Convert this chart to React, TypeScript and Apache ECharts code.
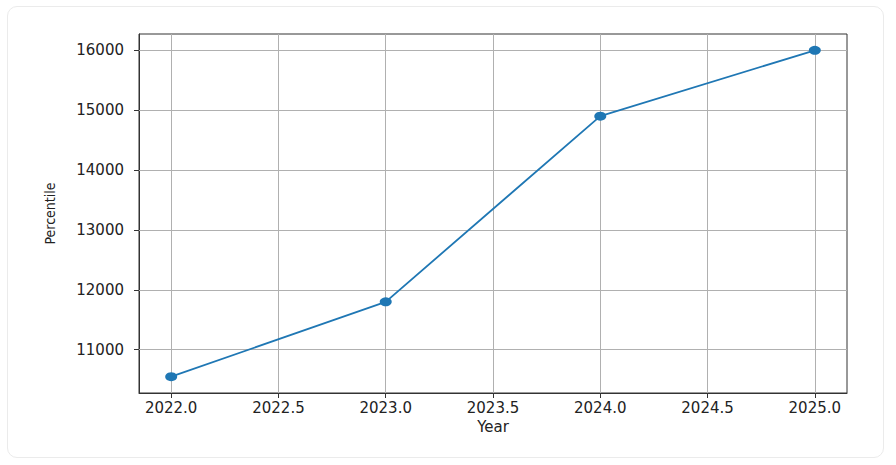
import React, { useEffect, useRef } from 'react';
import * as echarts from 'echarts';

const years = [2022, 2023, 2024, 2025];
const percentiles = [10550, 11800, 14900, 16000];
const xTicks = [2022.0, 2022.5, 2023.0, 2023.5, 2024.0, 2024.5, 2025.0];
const yTicks = [11000, 12000, 13000, 14000, 15000, 16000];

const FONT = '"DejaVu Sans", sans-serif';

const App: React.FC = () => {
    const chartRef = useRef<HTMLDivElement>(null);

    useEffect(() => {
        if (!chartRef.current) return;
        const chart = echarts.init(chartRef.current, undefined, { renderer: 'svg' });

        chart.setOption({
            animation: false,
            grid: {
                left: 139,
                top: 34,
                width: 708,
                height: 359,
                show: true,
                borderColor: '#333',
                borderWidth: 1,
                backgroundColor: 'transparent',
            },
            xAxis: {
                type: 'value',
                min: 2021.85,
                max: 2025.15,
                name: 'Year',
                nameLocation: 'middle',
                nameGap: 21,
                nameTextStyle: { fontFamily: FONT, fontSize: 15, color: '#222' },
                axisLine: { show: true, lineStyle: { color: '#333', width: 1 } },
                axisTick: {
                    show: true,
                    length: 5,
                    customValues: xTicks,
                    lineStyle: { color: '#333' },
                },
                axisLabel: {
                    customValues: xTicks,
                    margin: 7,
                    fontFamily: FONT,
                    fontSize: 15,
                    color: '#222',
                    formatter: (v: number) => v.toFixed(1),
                },
                splitLine: { show: false },
            },
            yAxis: {
                type: 'value',
                min: 10277.5,
                max: 16272.5,
                name: 'Percentile',
                nameLocation: 'middle',
                nameGap: 82,
                nameRotate: 90,
                nameTextStyle: {
                    fontFamily: '"DejaVu Sans Condensed", "DejaVu Sans", sans-serif',
                    fontSize: 14,
                    color: '#222',
                },
                axisLine: { show: true, lineStyle: { color: '#333', width: 1 } },
                axisTick: {
                    show: true,
                    length: 5,
                    customValues: yTicks,
                    lineStyle: { color: '#333' },
                },
                axisLabel: {
                    customValues: yTicks,
                    margin: 15,
                    fontFamily: FONT,
                    fontSize: 15,
                    color: '#222',
                    formatter: (v: number) => String(v),
                },
                splitLine: { show: false },
            },
            series: [
                {
                    type: 'line',
                    data: [],
                    z: 1,
                    silent: true,
                    markLine: {
                        silent: true,
                        z: 1,
                        symbol: 'none',
                        label: { show: false },
                        emphasis: { disabled: true },
                        lineStyle: { color: '#b0b0b0', width: 1, type: 'solid' },
                        data: [
                            ...xTicks.map(v => ({ xAxis: v })),
                            ...yTicks.map(v => ({ yAxis: v })),
                        ],
                    },
                },
                {
                    type: 'line',
                    z: 3,
                    data: years.map((y, i) => [y, percentiles[i]]),
                    symbol: 'circle',
                    symbolSize: [12, 9],
                    itemStyle: { color: '#1f77b4' },
                    lineStyle: { color: '#1f77b4', width: 1.8 },
                },
            ],
        });

        return () => chart.dispose();
    }, []);

    return (
        <div style={{ position: 'fixed', left: 0, top: 0, width: 896, height: 465, background: '#fff' }}>
            <div
                style={{
                    position: 'absolute',
                    left: 7,
                    top: 6,
                    width: 875,
                    height: 450,
                    border: '1px solid #ebebeb',
                    borderRadius: 10,
                }}
            />
            <div ref={chartRef} style={{ position: 'absolute', left: 0, top: 0, width: 896, height: 465 }} />
        </div>
    );
};

export default App;
